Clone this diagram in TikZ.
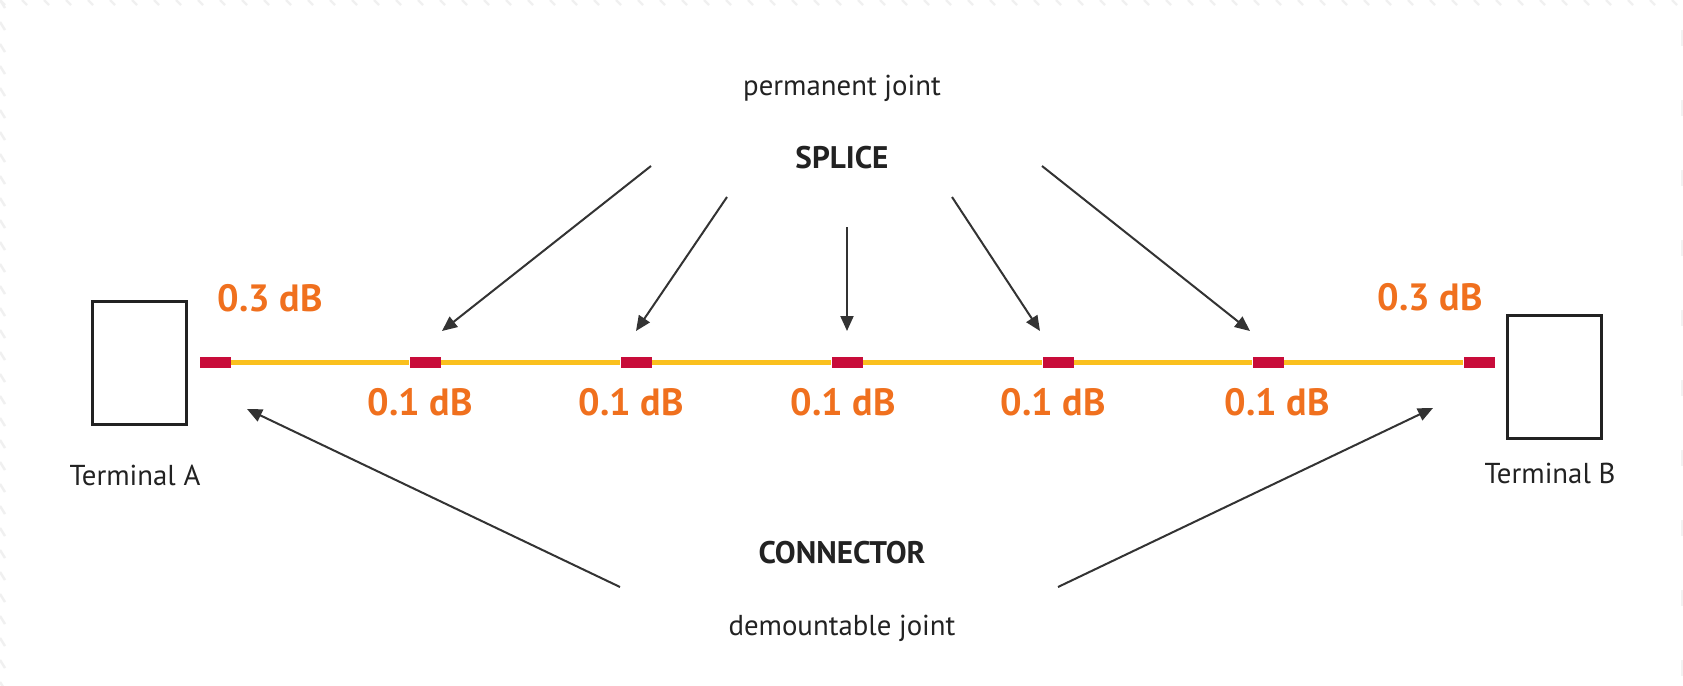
\documentclass[tikz,border=0pt]{standalone}
\usepackage{fontspec}
\setmainfont{PT Sans}
\usetikzlibrary{arrows.meta}
\definecolor{lossorange}{RGB}{240,112,30}
\definecolor{jointred}{RGB}{200,12,58}
\definecolor{fibreyellow}{RGB}{250,192,30}
\definecolor{inkgray}{RGB}{34,34,34}
\definecolor{arrowgray}{RGB}{51,51,51}
\begin{document}
\begin{tikzpicture}[x=0.5pt,y=-0.5pt,
  termbox/.style={draw=inkgray,line width=1.5pt,fill=white,minimum width=47pt,minimum height=61.5pt,inner sep=0pt},
  joint/.style={fill=jointred,minimum width=15.5pt,minimum height=5.5pt,inner sep=0pt},
  fibre/.style={draw=fibreyellow,line width=2.5pt},
  loss/.style={text=lossorange,font=\fontsize{19}{22}\selectfont\bfseries,anchor=base,inner sep=0pt},
  caption/.style={text=inkgray,font=\fontsize{14.4}{17}\selectfont,anchor=base,inner sep=0pt},
  heading/.style={text=inkgray,font=\fontsize{15.6}{18}\selectfont\bfseries,anchor=base,inner sep=0pt},
  pointer/.style={draw=arrowgray,line width=1pt,-{Triangle[length=7.5pt,width=6.5pt]}},
  hatch/.style={draw=gray!12,line width=1.2pt}]
\useasboundingbox (0,0) rectangle (1683,686);
\fill[white] (0,0) rectangle (1683,686);

% faint hatched frame
\foreach \x in {0,22,...,1683} \draw[hatch] (\x,0) -- (\x+5,5);
\foreach \y in {0,22,...,686} \draw[hatch] (0,\y) -- (5,\y+8);
\foreach \y in {30,100,...,686} \draw[draw=gray!10,line width=0.8pt] (1682,\y) -- (1682,\y+16);

% terminals
\node[termbox] (termA) at (139,362.5) {};
\node[termbox] (termB) at (1554.5,377) {};
\node[caption] (labA) at (135,485) {Terminal A};
\node[caption] (labB) at (1550,483) {Terminal B};

% joints along the fibre
\node[joint] (c0) at (215,362) {};
\node[joint] (s1) at (425,362) {};
\node[joint] (s2) at (636,362) {};
\node[joint] (s3) at (847,362) {};
\node[joint] (s4) at (1058,362) {};
\node[joint] (s5) at (1268,362) {};
\node[joint] (c6) at (1479,362) {};

% fibre segments between joints
\draw[fibre] (c0.east) -- (s1.west);
\draw[fibre] (s1.east) -- (s2.west);
\draw[fibre] (s2.east) -- (s3.west);
\draw[fibre] (s3.east) -- (s4.west);
\draw[fibre] (s4.east) -- (s5.west);
\draw[fibre] (s5.east) -- (c6.west);

% losses
\node[loss] (lossA) at (270,311) {0.3 dB};
\node[loss] (lossB) at (1430,310) {0.3 dB};
\node[loss] (l1) at (420,415) {0.1 dB};
\node[loss] (l2) at (631,415) {0.1 dB};
\node[loss] (l3) at (843,415) {0.1 dB};
\node[loss] (l4) at (1053,415) {0.1 dB};
\node[loss] (l5) at (1277,415) {0.1 dB};

% headings
\node[caption] (perm) at (842,95) {permanent joint};
\node[heading] (splice) at (842,168) {SPLICE};
\node[heading] (conn) at (842,563) {CONNECTOR};
\node[caption] (demount) at (842,635) {demountable joint};

% splice pointers
\coordinate (p1a) at (651,166);  \coordinate (p1b) at (442,331);
\coordinate (p2a) at (727,197);  \coordinate (p2b) at (636,331);
\coordinate (p3a) at (847,227);  \coordinate (p3b) at (847,331);
\coordinate (p4a) at (952,197);  \coordinate (p4b) at (1040,331);
\coordinate (p5a) at (1042,166); \coordinate (p5b) at (1250,331);
\draw[pointer] (p1a) -- (p1b);
\draw[pointer] (p2a) -- (p2b);
\draw[pointer] (p3a) -- (p3b);
\draw[pointer] (p4a) -- (p4b);
\draw[pointer] (p5a) -- (p5b);

% connector pointers
\coordinate (q1a) at (620,587);  \coordinate (q1b) at (247,409);
\coordinate (q2a) at (1058,587); \coordinate (q2b) at (1433,408);
\draw[pointer] (q1a) -- (q1b);
\draw[pointer] (q2a) -- (q2b);
\end{tikzpicture}
\end{document}
